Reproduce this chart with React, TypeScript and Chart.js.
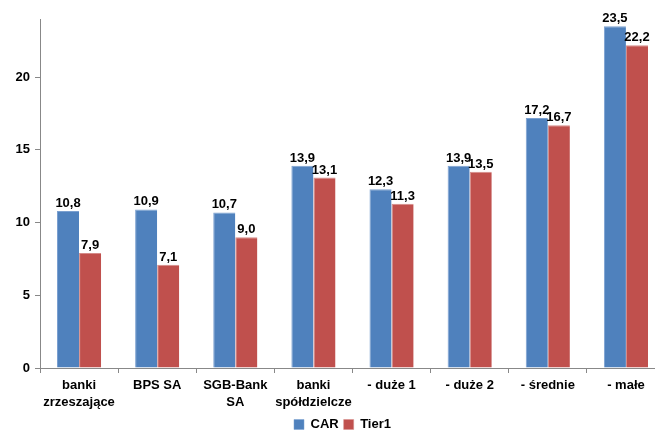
import React, { useEffect, useRef } from "react";
import { Chart, registerables } from "chart.js";

Chart.register(...registerables);

const categories: (string | string[])[] = [
  ["banki", "zrzeszające"],
  "BPS SA",
  ["SGB-Bank", "SA"],
  ["banki", "spółdzielcze"],
  "- duże 1",
  "- duże 2",
  "- średnie",
  "- małe",
];
const carValues = [10.8, 10.9, 10.7, 13.9, 12.3, 13.9, 17.2, 23.5];
const tier1Values = [7.9, 7.1, 9.0, 13.1, 11.3, 13.5, 16.7, 22.2];
const yTicks = [0, 5, 10, 15, 20];

const FONT = '"Liberation Sans", Arial, sans-serif';

const valueLabels = {
  id: "valueLabels",
  afterDatasetsDraw(chart: any) {
    const ctx = chart.ctx;
    ctx.save();
    ctx.font = `bold 13px ${FONT}`;
    ctx.fillStyle = "#000";
    ctx.textAlign = "center";
    ctx.textBaseline = "alphabetic";
    chart.data.datasets.forEach((ds: any, i: number) => {
      const meta = chart.getDatasetMeta(i);
      meta.data.forEach((el: any, j: number) => {
        const v = ds.data[j] as number;
        ctx.fillText(v.toFixed(1).replace(".", ","), el.x, el.y - 4);
      });
    });
    ctx.restore();
  },
};

const legendShift = {
  id: "legendShift",
  afterLayout(chart: any) {
    const lg = chart.legend;
    if (lg) {
      lg.left += 10;
      lg.right += 10;
    }
  },
};

export default function App() {
  const ref = useRef<HTMLCanvasElement>(null);
  useEffect(() => {
    if (!ref.current) return;
    const chart = new Chart(ref.current, {
      type: "bar",
      data: {
        labels: categories as any,
        datasets: [
          {
            label: "CAR",
            data: carValues,
            backgroundColor: "#4F81BD",
            borderColor: "#7BA0D0",
            borderWidth: { top: 1, left: 1, right: 0, bottom: 0 } as any,
            barPercentage: 1,
            categoryPercentage: 0.565,
          },
          {
            label: "Tier1",
            data: tier1Values,
            backgroundColor: "#C0504D",
            borderColor: "#D58A88",
            borderWidth: { top: 1, left: 1, right: 0, bottom: 0 } as any,
            barPercentage: 1,
            categoryPercentage: 0.565,
          },
        ],
      },
      options: {
        responsive: false,
        animation: false,
        layout: { padding: { top: 19, left: 0, right: 0, bottom: 0 } },
        plugins: {
          title: { display: false },
          tooltip: { enabled: false },
          legend: {
            display: true,
            position: "bottom",
            labels: {
              boxWidth: 10,
              boxHeight: 10,
              padding: 5,
              color: "#000",
              font: { family: FONT, size: 13, weight: "bold" },
            },
          },
        },
        scales: {
          x: {
            grid: {
              display: true,
              drawOnChartArea: false,
              drawTicks: true,
              tickLength: 5,
              color: "#888",
              offset: true,
            },
            border: { display: true, color: "#888" },
            ticks: {
              color: "#000",
              font: { family: FONT, size: 13, weight: "bold", lineHeight: 1.38 },
              maxRotation: 0,
              autoSkip: false,
              padding: 3,
            },
            afterFit: (s: any) => {
              s.height = 45;
            },
          },
          y: {
            min: 0,
            max: 24,
            afterBuildTicks: (s: any) => {
              s.ticks = yTicks.map((v) => ({ value: v }));
            },
            grid: {
              display: true,
              drawOnChartArea: false,
              drawTicks: true,
              tickLength: 5,
              color: "#888",
            },
            border: { display: true, color: "#888" },
            ticks: {
              color: "#000",
              font: { family: FONT, size: 13, weight: "bold" },
              padding: 5,
            },
            afterFit: (s: any) => {
              s.width = 40;
            },
          },
        },
      },
      plugins: [valueLabels, legendShift],
    });
    return () => chart.destroy();
  }, []);
  return (
    <div
      style={{
        position: "fixed",
        left: 0,
        top: 0,
        width: 655,
        height: 430,
        overflow: "hidden",
        background: "#fff",
      }}
    >
      <canvas ref={ref} width={665} height={441} style={{ display: "block" }} />
    </div>
  );
}
